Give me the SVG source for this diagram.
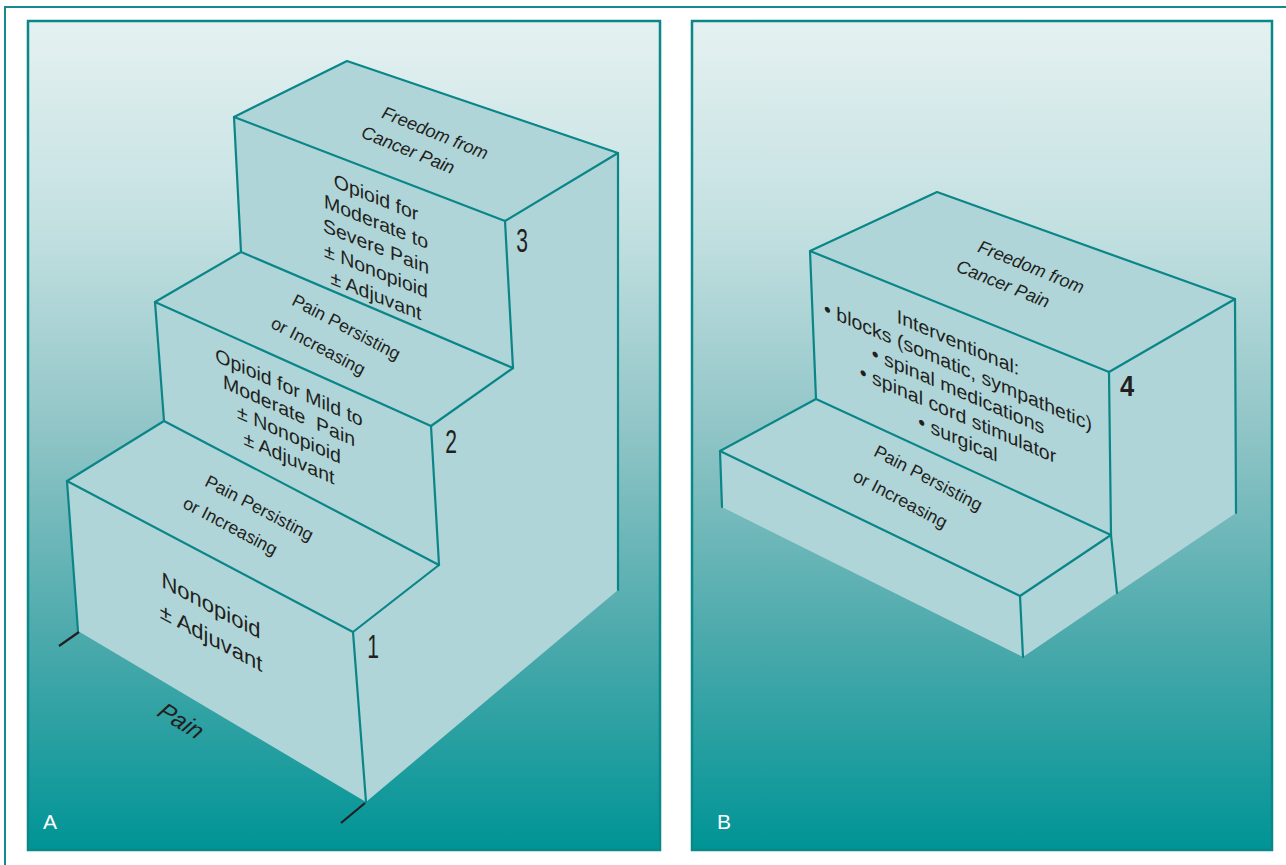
<svg xmlns="http://www.w3.org/2000/svg" width="1286" height="865" viewBox="0 0 1286 865">
<defs>
<linearGradient id="bg" gradientUnits="userSpaceOnUse" x1="0" y1="21" x2="0" y2="850">
<stop offset="0" stop-color="#e5f1f1"/>
<stop offset="0.25" stop-color="#c3e0e1"/>
<stop offset="0.5" stop-color="#8fc4c6"/>
<stop offset="0.75" stop-color="#4aa9ab"/>
<stop offset="1" stop-color="#009496"/>
</linearGradient>
<style>
.panel{fill:url(#bg);stroke:#0a8789;stroke-width:2.5}
.frame{fill:none;stroke:#15898b;stroke-width:2}
.box{fill:#afd5d8;stroke:none}
.edge{fill:none;stroke:#0a8588;stroke-width:2.2;stroke-linejoin:round;stroke-linecap:round}
.tick{stroke:#231f20;stroke-width:2.2}
.t{font-family:"Liberation Sans",Arial,sans-serif;fill:#231f20;text-anchor:middle}
.it{font-style:italic}
.lab{font-family:"Liberation Sans",Arial,sans-serif;fill:#ffffff;font-size:21px}
.num{font-family:"Liberation Sans",Arial,sans-serif;fill:#231f20;font-size:34px;text-anchor:middle}
</style>
</defs>
<rect class="frame" x="5" y="7" width="1300" height="900"/>
<g id="panelA">
<rect class="panel" x="28" y="21" width="632" height="829"/>
<text class="lab" x="43" y="829">A</text>
</g>
<g id="panelB">
<rect class="panel" x="692" y="21" width="580" height="829"/>
<text class="lab" x="717" y="829">B</text>
</g>
<g id="stairsA">
<polygon class="box" points="78,631 67,481 164,421 155,302 241,252 234,117 347,61 618,153 618,590 366,802"/>
<polygon class="edge" points="234,117 347,61 618,153 505,221"/>
<polyline class="edge" points="234,117 241,252 513,368 505,221"/>
<line class="edge" x1="618" y1="153" x2="618" y2="590"/>
<polyline class="edge" points="241,252 155,302 431,426 513,368"/>
<polyline class="edge" points="155,302 164,421 439,565 431,426"/>
<polyline class="edge" points="164,421 67,481 353,632 439,565"/>
<line class="edge" x1="67" y1="481" x2="78" y2="631"/>
<line class="edge" x1="353" y1="632" x2="366" y2="802"/>
<line class="tick" x1="79" y1="632" x2="59" y2="646"/>
<line class="tick" x1="365" y1="803" x2="341" y2="823"/>
</g>
<g id="step3A">
<g class="t it" font-size="18">
<text transform="matrix(0.927,0.375,-0.33,0.944,435,133)" y="6">Freedom from</text>
<text transform="matrix(0.927,0.375,-0.33,0.944,408,150)" y="6">Cancer Pain</text>
</g>
<g class="t" font-size="19.5" transform="translate(376,197) skewY(22)">
<text y="7">Opioid for</text>
<text y="31.5">Moderate to</text>
<text y="56">Severe Pain</text>
<text y="80.5">± Nonopioid</text>
<text y="105">± Adjuvant</text>
</g>
<text class="num" transform="translate(522,240) scale(0.62,1)" y="12">3</text>
</g>
<g id="step2A">
<g class="t it" font-size="18">
<text transform="matrix(0.883,0.469,-0.27,0.963,346,327)" y="6">Pain Persisting</text>
<text transform="matrix(0.883,0.469,-0.27,0.963,318,346)" y="6">or Increasing</text>
</g>
<g class="t" font-size="19.5" transform="translate(289,387) skewY(24)">
<text y="7">Opioid for Mild to</text>
<text y="30.5" xml:space="preserve">Moderate  Pain</text>
<text y="54">± Nonopioid</text>
<text y="77.5">± Adjuvant</text>
</g>
<text class="num" transform="translate(451,441) scale(0.62,1)" y="12">2</text>
</g>
<g id="step1A">
<g class="t it" font-size="18">
<text transform="matrix(0.883,0.469,-0.27,0.963,259,508)" y="6">Pain Persisting</text>
<text transform="matrix(0.883,0.469,-0.27,0.963,230,526)" y="6">or Increasing</text>
</g>
<g class="t" font-size="22" transform="translate(211,605) skewY(28)">
<text y="8">Nonopioid</text>
<text y="40">± Adjuvant</text>
</g>
<text class="num" transform="translate(373,646) scale(0.62,1)" y="12">1</text>
<text class="t it" font-size="24" transform="matrix(0.857,0.515,-0.6,0.8,181,721)" y="8">Pain</text>
</g>
<g id="stairsB">
<polygon class="box" points="722,507 720,451 816,399 810,251 937,192 1235,299 1236,513 1117,593 1023,657"/>
<polygon class="edge" points="810,251 937,192 1235,299 1109,372"/>
<line class="edge" x1="810" y1="251" x2="816" y2="399"/>
<polyline class="edge" points="1109,372 1111,535 1117,593"/>
<line class="edge" x1="1235" y1="299" x2="1236" y2="513"/>
<polyline class="edge" points="1111,535 816,399 720,451 1020,596 1111,535"/>
<line class="edge" x1="720" y1="451" x2="722" y2="507"/>
<line class="edge" x1="1020" y1="596" x2="1023" y2="657"/>
</g>
<g id="step4B">
<g class="t it" font-size="18">
<text transform="matrix(0.927,0.375,-0.33,0.944,1031,267)" y="6">Freedom from</text>
<text transform="matrix(0.927,0.375,-0.33,0.944,1003,284)" y="6">Cancer Pain</text>
</g>
<g class="t" font-size="19.5" transform="translate(958,342) skewY(23.5)">
<text y="7">Interventional:</text>
<text y="31">• blocks (somatic, sympathetic)</text>
<text y="55">• spinal medications</text>
<text y="79">• spinal cord stimulator</text>
<text y="103">• surgical</text>
</g>
<text class="num" transform="translate(1127,386) scale(0.75,0.85)" y="12" font-weight="bold">4</text>
</g>
<g id="stepB">
<g class="t it" font-size="18">
<text transform="matrix(0.883,0.469,-0.27,0.963,928,478)" y="6">Pain Persisting</text>
<text transform="matrix(0.883,0.469,-0.27,0.963,900,499)" y="6">or Increasing</text>
</g>
</g>
</svg>
